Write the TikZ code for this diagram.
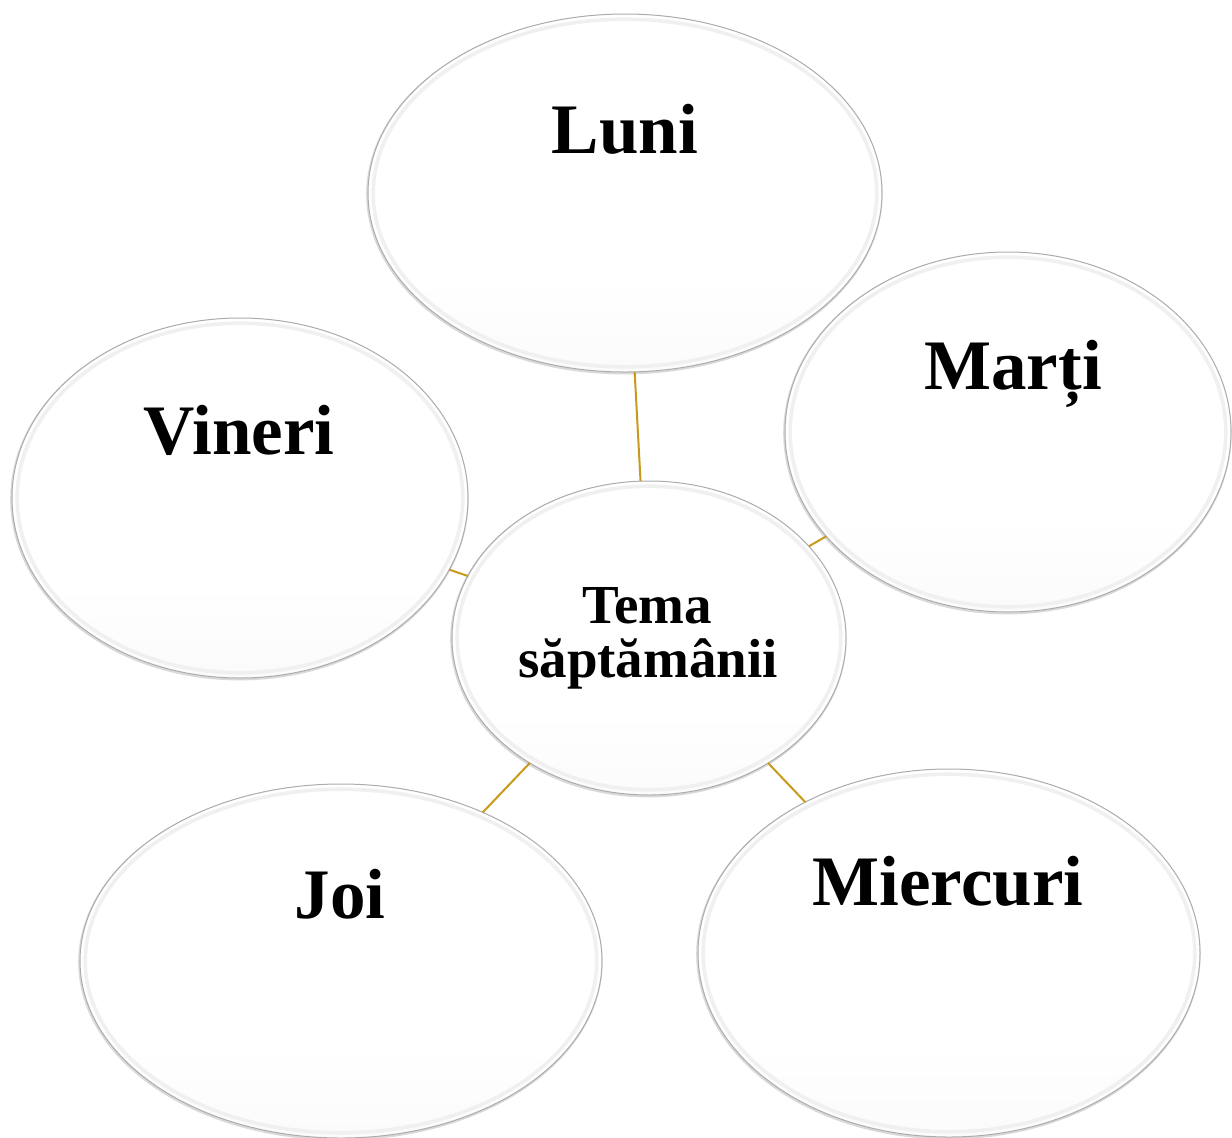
\documentclass[tikz,border=0pt]{standalone}
\usepackage{fontspec}
\setmainfont{Liberation Serif}
\usetikzlibrary{shapes.geometric,calc}
\definecolor{gold}{HTML}{C99A1A}
\pgfdeclareverticalshading{bub}{100bp}{color(0bp)=(gray!14); color(22bp)=(gray!4); color(38bp)=(white); color(100bp)=(white)}
\tikzset{
  bubble/.style={ellipse, inner sep=0pt, outer sep=0pt, draw=gray!65, line width=0.5pt, shading=bub,
    preaction={draw=gray!30, line width=1.2pt, transform canvas={shift={(-0.3pt,-0.6pt)}}},
    path picture={\path let \p1=(path picture bounding box.north east), \p2=(path picture bounding box.center) in
      [draw=gray!12, line width=1.8pt] (\p2) ellipse [x radius={\x1-\x2-2.6pt}, y radius={\y1-\y2-2.6pt}];}},
  dayname/.style={font=\bfseries\fontsize{35.5}{35.5}\selectfont, anchor=base, inner sep=0pt},
  midname/.style={font=\bfseries\fontsize{27.5}{27.5}\selectfont, anchor=base, inner sep=0pt},
  link/.style={draw=gold, line width=1pt}
}
\begin{document}
\begin{tikzpicture}[x=0.5pt,y=-0.5pt]
\useasboundingbox (0,0) rectangle (1232,1137);
% outer bubbles
\node[bubble, minimum width=257pt, minimum height=179pt] (luni) at (625,193) {};
\node[bubble, minimum width=223pt, minimum height=180pt] (marti) at (1008,432) {};
\node[bubble, minimum width=228pt, minimum height=180pt] (vineri) at (240,498) {};
\node[bubble, minimum width=261pt, minimum height=177pt] (joi) at (341,961) {};
\node[bubble, minimum width=251pt, minimum height=184pt] (miercuri) at (949,953) {};
% centre bubble
\node[bubble, minimum width=197pt, minimum height=157pt] (tema) at (649,638) {};
% connectors
\draw[link] (tema) -- (luni);
\draw[link] (tema) -- (marti);
\draw[link] (tema) -- (vineri);
\draw[link] (tema) -- (joi);
\draw[link] (tema) -- (miercuri);
% labels
\node[dayname] (luniT) at (625,153) {Luni};
\node[dayname] (martiT) at (1013,389) {Marți};
\node[dayname] (vineriT) at (239,454) {Vineri};
\node[dayname] (joiT) at (340,918) {Joi};
\node[dayname] (miercuriT) at (948,905) {Miercuri};
\node[midname] (temaA) at (647,623) {Tema};
\node[midname] (temaB) at (648,677) {săptămânii};
\end{tikzpicture}
\end{document}
